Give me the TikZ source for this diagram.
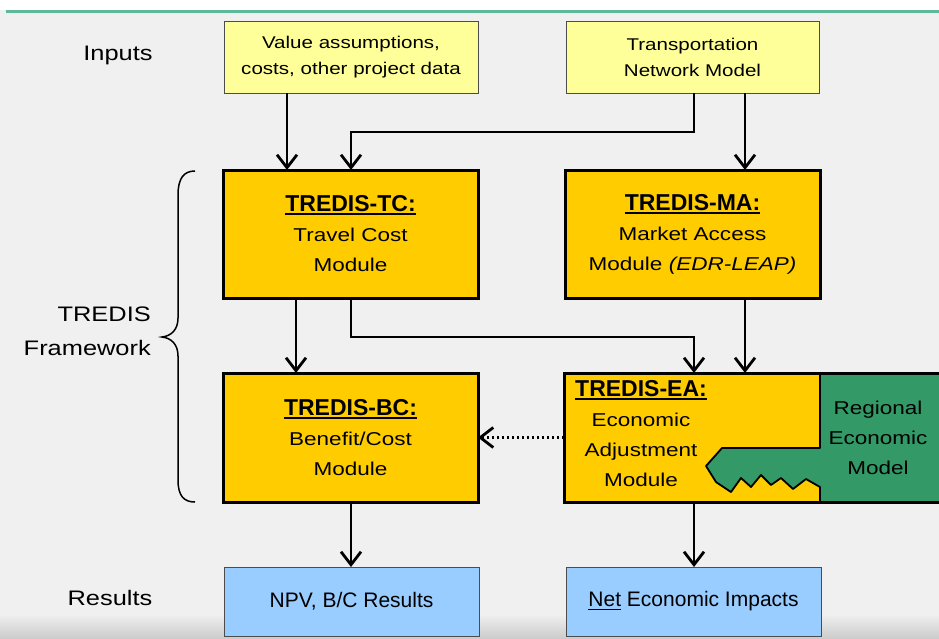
\documentclass[tikz,border=0pt]{standalone}
\usepackage{fontspec}
\setmainfont{Liberation Sans}
\newfontfamily\widef{Liberation Sans}[FakeStretch=1.21]
\usetikzlibrary{arrows.meta,calc}
\definecolor{bg}{HTML}{F0F0F0}
\definecolor{inyel}{HTML}{FFFF99}
\definecolor{modyel}{HTML}{FFCC00}
\definecolor{regg}{HTML}{339966}
\definecolor{resblue}{HTML}{99CCFF}
\definecolor{topline}{HTML}{5DB99A}
\newcommand\hdr[1]{\vtop{\hbox{\normalfont\bfseries\fontsize{23}{30}\selectfont #1}\kern1.2pt\hrule height 2pt}}
\newcommand\thinul[1]{\vtop{\hbox{#1}\kern1.8pt\hrule height 1.3pt}}
\begin{document}
\begin{tikzpicture}[x=1pt,y=-1pt,
  inbox/.style={draw=black!70, line width=1pt, fill=inyel, minimum width=254pt, minimum height=72pt, inner sep=0pt, outer sep=0pt, align=center, font=\widef\fontsize{17}{26}\selectfont},
  modbox/.style={draw=black, line width=3pt, fill=modyel, minimum width=255pt, minimum height=128pt, inner sep=0pt, outer sep=0pt, align=center, font=\widef\fontsize{18.6}{30}\selectfont},
  resbox/.style={draw=black!70, line width=1pt, fill=resblue, minimum width=255pt, minimum height=69pt, inner sep=0pt, outer sep=0pt, font=\fontsize{21}{25}\selectfont},
  lbl/.style={font=\widef\fontsize{21}{34}\selectfont, inner sep=0pt},
  modtext/.style={align=center, inner sep=0pt, font=\widef\fontsize{18.6}{30}\selectfont},
  arr/.style={line width=2.8pt, -{Straight Barb[length=13pt,width=20pt]}}]
\clip (0,0) rectangle (939,638);
% background
\fill[bg] (0,0) rectangle (939,638);
\fill[white] (0,0) rectangle (939,10);
\fill[topline] (6,10) rectangle (939,13);
\shade[top color=bg, bottom color=black!20] (0,614) rectangle (939,638);
% column coordinates
\coordinate (c287) at (287,0);
\coordinate (c296) at (296,0);
\coordinate (c351) at (351,0);
\coordinate (c694) at (694,0);
\coordinate (c745) at (745,0);
% left labels
\node[lbl] (inputs) at (118,55) {Inputs};
\node[lbl, align=right, anchor=east] (frame) at (151,331) {TREDIS\\Framework};
\node[lbl] (results) at (110,598) {Results};
% brace
\draw[line width=1.5pt] (195,171) .. controls (184,171) and (178,178) .. (178,195) -- (178,318) .. controls (178,330) and (171,336) .. (162,337) .. controls (171,338) and (178,344) .. (178,356) -- (178,480) .. controls (178,496) and (184,502) .. (195,502);
% input boxes
\node[inbox] (in1) at (351,57) {Value assumptions,\\costs, other project data};
\node[inbox, minimum width=253pt] (in2) at (692.5,57) {Transportation\\Network Model};
% module boxes
\node[modbox] (tc) at (350.5,234) {\hdr{TREDIS-TC:}\\Travel Cost\\Module};
\node[modbox] (ma) at (692.5,234) {\hdr{TREDIS-MA:}\\Market Access\\Module \textit{(EDR-LEAP)}};
\node[modbox, minimum height=129pt] (bc) at (350.5,437.5) {\hdr{TREDIS-BC:}\\Benefit/Cost\\Module};
\node[modbox, minimum width=381pt, minimum height=129pt] (ea) at (754.5,437.5) {};
% regional economic model insert
\filldraw[fill=regg, draw=black, line width=1.8pt, line join=round]
  (820,373) -- (945,373) -- (945,502) -- (820,502) -- (820,487)
  -- (806,479) -- (793,489) -- (781,478) -- (771,485) -- (761,475) -- (751,487)
  -- (741,478) -- (731,492) -- (716,482) -- (706,466) -- (722,448) -- (820,448) -- cycle;
\draw[line width=3pt] (ea.south west) rectangle (ea.north east);
\node[modtext] (eatext) at (641,434) {\hdr{TREDIS-EA:}\\Economic\\Adjustment\\Module};
\node[modtext] (rem) at (878,438) {Regional\\Economic\\Model};
% result boxes
\node[resbox] (npv) at (351.5,601.5) {NPV, B/C Results};
\node[resbox] (net) at (693.5,601.5) {\thinul{Net} Economic Impacts};
% connectors
\draw[arr] (in1.south -| c287) -- (tc.north -| c287);
\draw[arr] (in2.south -| c694) -- (694,132) -- (351,132) -- (tc.north -| c351);
\draw[arr] (in2.south -| c745) -- (ma.north -| c745);
\draw[arr] (tc.south -| c296) -- (bc.north -| c296);
\draw[arr] (tc.south -| c351) -- (351,337) -- (694,337) -- (ea.north -| c694);
\draw[arr] (ma.south -| c745) -- (ea.north -| c745);
\draw[arr] (bc.south -| c351) -- (npv.north -| c351);
\draw[arr] (ea.south -| c694) -- (net.north -| c694);
\draw[arr, dash pattern=on 2.5pt off 2.5pt] (ea.west) -- (bc.east);
\end{tikzpicture}
\end{document}
